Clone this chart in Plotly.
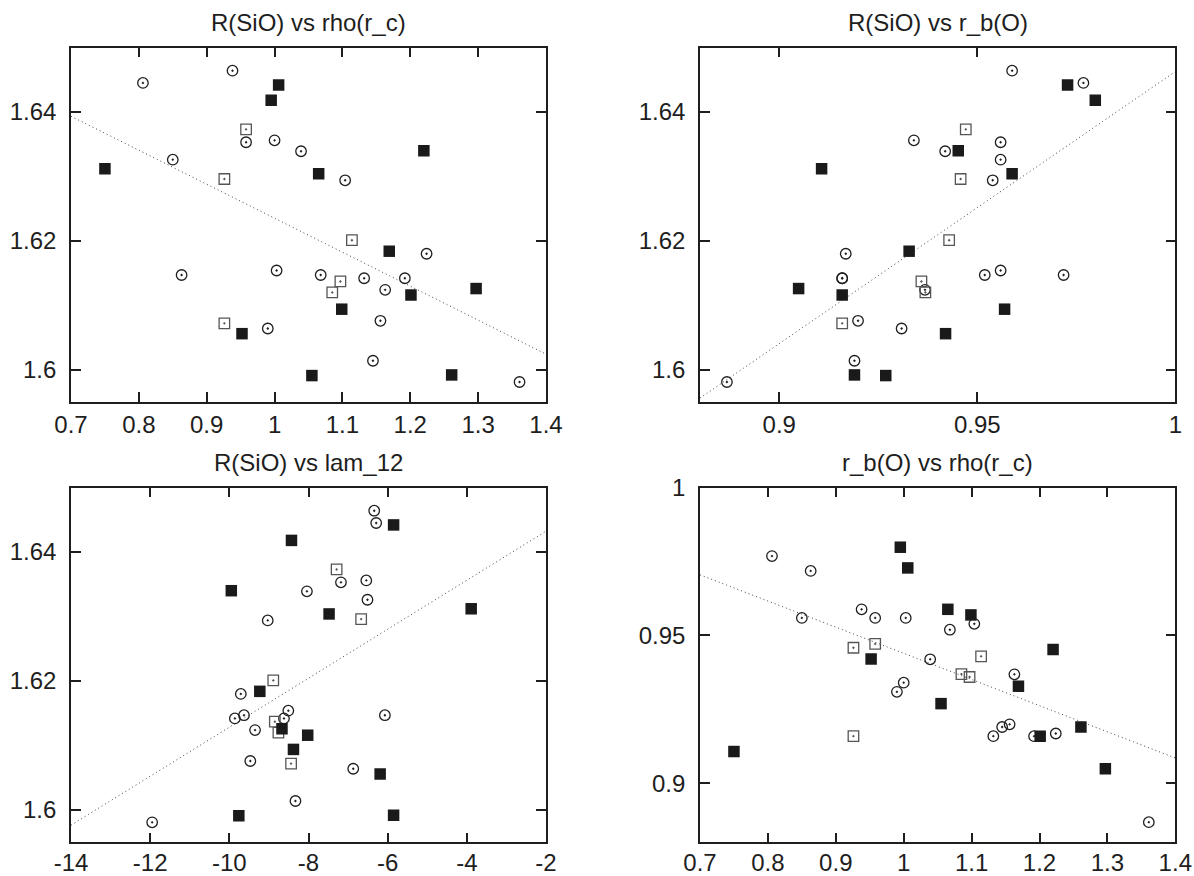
import numpy as np
import plotly.graph_objects as go

# ---------------- data ----------------
# group 1: filled squares
f_rho = [1.006, 0.995, 0.750, 1.065, 0.952, 1.055, 1.169, 1.201, 1.297, 1.099, 1.261, 1.220]
f_R   = [1.6442, 1.6418, 1.6312, 1.6304, 1.6056, 1.5991, 1.6184, 1.6116, 1.6126, 1.6094, 1.5992, 1.6340]
f_rb  = [0.9728, 0.9798, 0.9107, 0.9588, 0.9420, 0.9269, 0.9328, 0.9159, 0.9049, 0.9569, 0.9190, 0.9452]
f_lam = [-5.85, -8.43, -3.89, -7.48, -6.19, -9.76, -9.23, -8.02, -8.67, -8.38, -5.85, -9.95]

# group 2: open squares
s_rho = [0.958, 0.926, 0.926, 1.114, 1.097, 1.085]
s_R   = [1.6373, 1.6296, 1.6072, 1.6201, 1.6137, 1.6120]
s_rb  = [0.9471, 0.9458, 0.9159, 0.9429, 0.9359, 0.9369]
s_lam = [-7.29, -6.67, -8.44, -8.89, -8.85, -8.76]

# group 3: open circles
c_rho = [0.806, 0.938, 0.958, 1.000, 1.039, 0.850, 1.104, 0.863, 1.003, 1.068,
         0.990, 1.224, 1.132, 1.192, 1.163, 1.156, 1.145, 1.361]
c_R   = [1.6445, 1.6464, 1.6353, 1.6356, 1.6339, 1.6326, 1.6294, 1.6147, 1.6154, 1.6147,
         1.6064, 1.6180, 1.6142, 1.6142, 1.6124, 1.6076, 1.6014, 1.5981]
c_rb  = [0.9768, 0.9588, 0.9559, 0.9340, 0.9419, 0.9559, 0.9539, 0.9718, 0.9559, 0.9519,
         0.9309, 0.9168, 0.9159, 0.9159, 0.9368, 0.9199, 0.9190, 0.8868]
c_lam = [-6.29, -6.34, -7.18, -6.54, -8.04, -6.51, -9.03, -6.07, -8.51, -9.63,
         -6.87, -9.71, -9.86, -8.62, -9.35, -9.47, -8.33, -11.95]

titles = ["R(SiO) vs rho(r_c)", "R(SiO) vs r_b(O)", "R(SiO) vs lam_12", "r_b(O) vs rho(r_c)"]

rho_ticks = [0.7, 0.8, 0.9, 1.0, 1.1, 1.2, 1.3, 1.4]
rho_ticktext = ["0.7", "0.8", "0.9", "1", "1.1", "1.2", "1.3", "1.4"]
R_ticks = [1.60, 1.62, 1.64]
R_ticktext = ["1.6", "1.62", "1.64"]
rb_ticks = [0.90, 0.95, 1.00]
rb_ticktext = ["0.9", "0.95", "1"]
lam_ticks = [-14, -12, -10, -8, -6, -4, -2]
lam_ticktext = ["-14", "-12", "-10", "-8", "-6", "-4", "-2"]

rho_range = [0.7, 1.4]
R_range = [1.595, 1.65]
rb_range = [0.88, 1.0]
lam_range = [-14, -2]

# ---------------- figure ----------------
W, H = 1194, 876
fig = go.Figure()

INK = "#1e1e1e"
FONT = "Liberation Sans, Arial, Helvetica, sans-serif"

panels = [
    ("rho", "R", rho_range, R_range, rho_ticks, rho_ticktext, R_ticks, R_ticktext, (71, 546), (47.5, 402)),
    ("rb", "R", rb_range, R_range, rb_ticks, rb_ticktext, R_ticks, R_ticktext, (700, 1175.3), (47.5, 402)),
    ("lam", "R", lam_range, R_range, lam_ticks, lam_ticktext, R_ticks, R_ticktext, (71, 546), (487.5, 842.3)),
    ("rho", "rb", rho_range, rb_range, rho_ticks, rho_ticktext, rb_ticks, rb_ticktext, (700, 1175.3), (487.5, 842.3)),
]

groups = {
    "f": {"rho": f_rho, "R": f_R, "rb": f_rb, "lam": f_lam},
    "s": {"rho": s_rho, "R": s_R, "rb": s_rb, "lam": s_lam},
    "c": {"rho": c_rho, "R": c_R, "rb": c_rb, "lam": c_lam},
}

styles = {
    "c": dict(symbol="circle-open-dot", size=10.5, color=INK, line=dict(color=INK, width=1.3)),
    "s": dict(symbol="square-open-dot", size=10.5, color="#555555", line=dict(color="#555555", width=1.3)),
    "f": dict(symbol="square", size=11.5, color="#1a1a1a", line=dict(width=0)),
}

layout_axes = {}
annotations = []
for i, (xk, yk, xr, yr, xt, xtt, yt, ytt, (x0, x1), (y0, y1)) in enumerate(panels, start=1):
    xa = "x" if i == 1 else f"x{i}"
    ya = "y" if i == 1 else f"y{i}"
    xname = "xaxis" if i == 1 else f"xaxis{i}"
    yname = "yaxis" if i == 1 else f"yaxis{i}"

    # least-squares line through all points of the panel
    xs = np.array(groups["f"][xk] + groups["s"][xk] + groups["c"][xk], dtype=float)
    ys = np.array(groups["f"][yk] + groups["s"][yk] + groups["c"][yk], dtype=float)
    k, b = np.polyfit(xs, ys, 1)
    lx = np.array(xr, dtype=float)
    fig.add_trace(go.Scatter(x=lx, y=k * lx + b, mode="lines", xaxis=xa, yaxis=ya,
                             line=dict(color="#444444", width=1, dash="1px,3px"),
                             showlegend=False, hoverinfo="skip"))

    for g in ["c", "s", "f"]:
        fig.add_trace(go.Scatter(x=groups[g][xk], y=groups[g][yk], mode="markers",
                                 xaxis=xa, yaxis=ya, marker=styles[g], showlegend=False))

    common = dict(showline=True, linecolor=INK, linewidth=1.6, mirror="ticks",
                  ticks="inside", ticklen=10, tickwidth=1.5, tickcolor=INK,
                  showgrid=False, zeroline=False, automargin=False,
                  tickfont=dict(family=FONT, size=24, color=INK))
    xstand = 0 if i <= 2 else -2
    layout_axes[xname] = dict(common, domain=[x0 / W, x1 / W], range=xr, anchor=ya,
                              tickmode="array", tickvals=xt, ticktext=xtt, ticklabelstandoff=xstand)
    layout_axes[yname] = dict(common, domain=[1 - y1 / H, 1 - y0 / H], range=yr, anchor=xa,
                              tickmode="array", tickvals=yt, ticktext=ytt, ticklabelstandoff=8)

    annotations.append(dict(text=titles[i - 1], x=(x0 + x1) / 2 / W, y=1 - (y0 - 25) / H,
                            xref="paper", yref="paper", xanchor="center", yanchor="middle",
                            showarrow=False, font=dict(family=FONT, size=24, color=INK)))

fig.update_layout(width=W, height=H, autosize=False,
                  margin=dict(l=0, r=0, t=0, b=0, pad=0, autoexpand=False),
                  paper_bgcolor="white", plot_bgcolor="white",
                  annotations=annotations, **layout_axes)

fig.write_html("out.html")
